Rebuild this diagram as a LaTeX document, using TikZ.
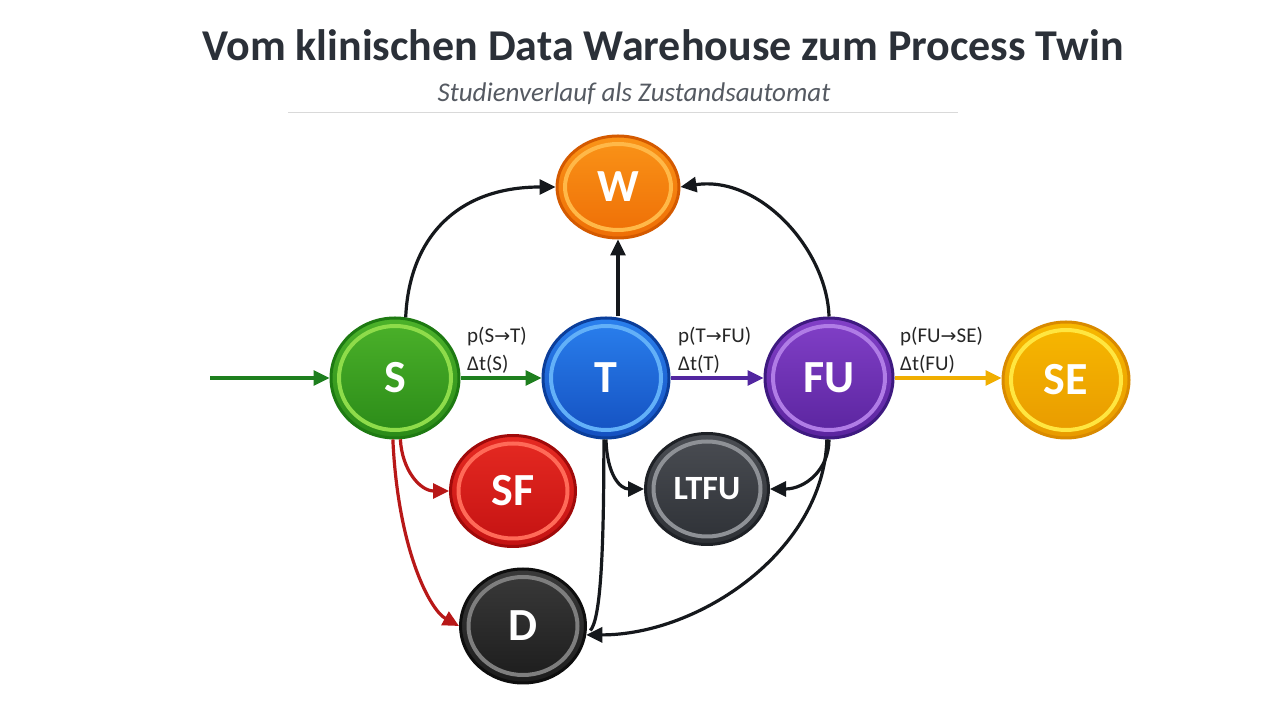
\documentclass[tikz,border=0pt]{standalone}
\usepackage{fontspec}
\setmainfont{Carlito}
\newfontfamily\dejavu{DejaVu Sans}
\usetikzlibrary{arrows.meta,shapes.geometric,calc}
\definecolor{titlec}{HTML}{2B3038}
\definecolor{subc}{HTML}{555A62}
\definecolor{gDark}{HTML}{1E7A12}\definecolor{gTop}{HTML}{4CB22A}\definecolor{gBot}{HTML}{2A8A18}\definecolor{gRing}{HTML}{8EDC4A}
\definecolor{bDark}{HTML}{0B3E9A}\definecolor{bTop}{HTML}{2A80EE}\definecolor{bBot}{HTML}{1450C0}\definecolor{bRing}{HTML}{62B0F8}
\definecolor{pDark}{HTML}{3E1A80}\definecolor{pTop}{HTML}{8240C8}\definecolor{pBot}{HTML}{5A249E}\definecolor{pRing}{HTML}{B07CE6}
\definecolor{yDark}{HTML}{D98A00}\definecolor{yTop}{HTML}{F7B800}\definecolor{yBot}{HTML}{E89A00}\definecolor{yRing}{HTML}{FFE640}
\definecolor{oDark}{HTML}{D45A00}\definecolor{oTop}{HTML}{FA9418}\definecolor{oBot}{HTML}{EE6E06}\definecolor{oRing}{HTML}{FFB848}
\definecolor{rDark}{HTML}{A00A0A}\definecolor{rTop}{HTML}{E62A22}\definecolor{rBot}{HTML}{C41212}\definecolor{rRing}{HTML}{FF6A58}
\definecolor{lDark}{HTML}{1E2126}\definecolor{lTop}{HTML}{4A4D53}\definecolor{lBot}{HTML}{2E3136}\definecolor{lRing}{HTML}{8E9196}
\definecolor{dDark}{HTML}{0E0E0E}\definecolor{dTop}{HTML}{3A3A3A}\definecolor{dBot}{HTML}{1C1C1C}\definecolor{dRing}{HTML}{7E7E7E}
\definecolor{arGreen}{HTML}{1E7F1E}
\definecolor{arPurple}{HTML}{5226A0}
\definecolor{arGold}{HTML}{F0AE00}
\definecolor{arRed}{HTML}{B81818}
\definecolor{arBlack}{HTML}{15181C}
\newcommand{\arr}{{\dejavu\fontsize{19}{19}\selectfont →}}
\begin{document}
\begin{tikzpicture}[x=1pt,y=1pt,
  stnode/.style n args={4}{ellipse, inner sep=0pt, draw=#1, line width=3pt,
    top color=#2, bottom color=#3, text=white,
    font=\bfseries\fontsize{46}{46}\selectfont,
    path picture={\draw[#4, line width=4pt] let \p1=($(path picture bounding box.north east)-(path picture bounding box.center)$) in (path picture bounding box.center) ellipse [x radius=\x1-8pt, y radius=\y1-8pt];}},
  ed/.style={line width=3.2pt, -{Triangle[length=16pt,width=15pt]}},
  lbl/.style={anchor=base west, inner sep=0pt, font=\fontsize{21}{21}\selectfont, text=black!85},
  titlestyle/.style={font=\bfseries\fontsize{44}{44}\selectfont, text=titlec},
  substyle/.style={font=\itshape\fontsize{27}{27}\selectfont, text=subc}
]
\useasboundingbox (0,0) rectangle (1280,720);
\fill[white] (0,0) rectangle (1280,720);

\node[titlestyle] (title) at (663,675) {Vom klinischen Data Warehouse zum Process Twin};
\node[substyle] (sub) at (634,626) {Studienverlauf als Zustandsautomat};
\draw[black!15, line width=1pt] (288,607) -- (958,607);

% states
\node[stnode={oDark}{oTop}{oBot}{oRing}, minimum width=122pt, minimum height=102pt] (W) at (618,533) {W};
\node[stnode={gDark}{gTop}{gBot}{gRing}, minimum width=128pt, minimum height=120pt] (S) at (395,342) {S};
\node[stnode={bDark}{bTop}{bBot}{bRing}, minimum width=126pt, minimum height=120pt] (T) at (606,342) {T};
\node[stnode={pDark}{pTop}{pBot}{pRing}, minimum width=128pt, minimum height=120pt] (FU) at (829,342) {FU};
\node[stnode={yDark}{yTop}{yBot}{yRing}, minimum width=126pt, minimum height=116pt] (SE) at (1066,340) {SE};
\node[stnode={rDark}{rTop}{rBot}{rRing}, minimum width=125pt, minimum height=111pt] (SF) at (513,229) {SF};
\node[stnode={lDark}{lTop}{lBot}{lRing}, minimum width=123pt, minimum height=111pt, font=\bfseries\fontsize{34}{34}\selectfont] (LTFU) at (707,231) {LTFU};
\node[stnode={dDark}{dTop}{dBot}{dRing}, minimum width=125pt, minimum height=114pt] (D) at (523,94) {D};

\coordinate (entry) at (210,342);

% main flow
\draw[ed, arGreen] (entry) -- (S.west);
\draw[ed, arGreen] (S.east) -- (T.west);
\draw[ed, arPurple] (T.east) -- (FU.west);
\draw[ed, arGold] (FU.east) -- (FU.east -| SE.west);

% labels
\node[lbl] (l1a) at (467,377) {p(S\arr T)};
\node[lbl] (l1b) at (467,349) {Δt(S)};
\node[lbl] (l2a) at (678,377) {p(T\arr FU)};
\node[lbl] (l2b) at (678,349) {Δt(T)};
\node[lbl] (l3a) at (900,377) {p(FU\arr SE)};
\node[lbl] (l3b) at (900,349) {Δt(FU)};

% to W
\draw[ed, arBlack] (S.80) .. controls (409,480) and (455,533) .. (W.west);
\draw[ed, arBlack] (W.south |- T.north) -- (W.south);
\draw[ed, arBlack] (FU.north) .. controls (827,470) and (760,545) .. (W.east);

% failures
\draw[ed, arRed] (S.-85) .. controls (402,250) and (420,229) .. (SF.west);
\draw[ed, arRed] (S.-92) .. controls (398,170) and (430,110) .. (D.west);
\draw[ed, arBlack] (T.south) .. controls (607,245) and (620,231) .. (LTFU.west);
\draw[line width=3.2pt, arBlack, shorten >=6pt] (T.-92) .. controls (604,160) and (600,100) .. (D.-8);
\draw[ed, arBlack] (FU.south) .. controls (829,250) and (805,231) .. (LTFU.east);
\draw[ed, arBlack] (FU.-92) .. controls (824,170) and (700,85) .. (D.-8);
\end{tikzpicture}
\end{document}
